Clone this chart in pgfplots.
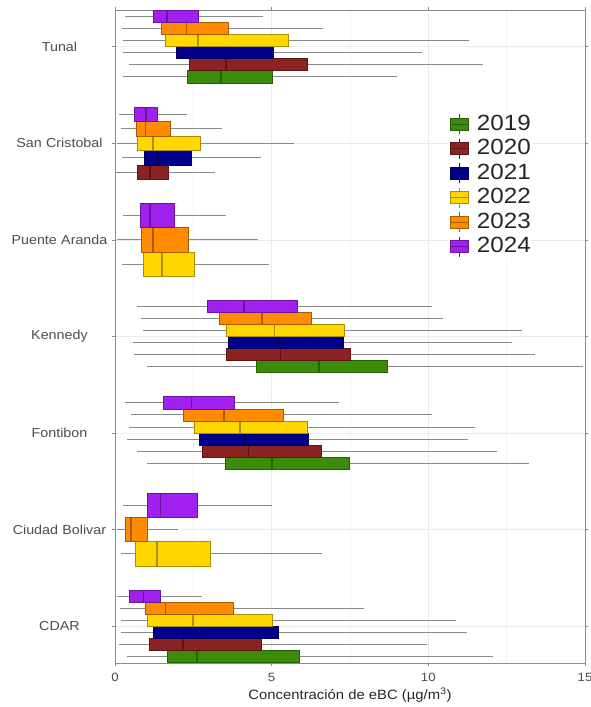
\documentclass[border=0pt]{standalone}
\usepackage{fontspec}
\setmainfont{Liberation Sans}[FakeStretch=1.1]
\usepackage{pgfplots}
\pgfplotsset{compat=1.18}
\usepgfplotslibrary{statistics}

% fill / outline colours per year
\definecolor{c19}{HTML}{3B8C0A}\definecolor{c19d}{HTML}{285F05}
\definecolor{c20}{HTML}{8B2323}\definecolor{c20d}{HTML}{5C1414}
\definecolor{c21}{HTML}{00008B}\definecolor{c21d}{HTML}{00005A}
\definecolor{c22}{HTML}{FFD700}\definecolor{c22d}{HTML}{A88E00}
\definecolor{c23}{HTML}{FF8C00}\definecolor{c23d}{HTML}{A85C00}
\definecolor{c24}{HTML}{A020F0}\definecolor{c24d}{HTML}{6A14A0}
\definecolor{whisk}{HTML}{8A8A8A}
\definecolor{gridc}{HTML}{EBEBEB}
\definecolor{gridm}{HTML}{F4F4F4}
\definecolor{frame}{HTML}{8C8C8C}
\definecolor{txt}{HTML}{4D4D4D}

% horizontal box: position, height, colour, lower whisker, Q1, median, Q3, upper whisker
\newcommand{\bp}[8]{%
  \addplot[forget plot, boxplot prepared={draw direction=x, draw position=#1,
      box extend=#2, whisker extend=0,
      lower whisker=#4, lower quartile=#5, median=#6,
      upper quartile=#7, upper whisker=#8,
      every box/.style={draw=#3d, fill=#3, line width=0.8pt},
      every median/.style={draw=#3d, line width=1.2pt},
      every whisker/.style={draw=whisk, line width=1pt}}] coordinates {};
}
% legend key drawn as a small box glyph
\newcommand{\legkey}[2]{%
  \addlegendimage{legend image code/.code={%
    \path[draw=none, fill=none] (-2pt,-1pt) rectangle (26pt,1pt);
    \draw[draw=#1d, line width=0.8pt] (9pt,-10pt) -- (9pt,10pt);
    \draw[draw=#1d, fill=#1, line width=0.8pt] (0pt,-6pt) rectangle (18pt,6pt);
    \draw[draw=#1d, line width=0.8pt] (0pt,0pt) -- (18pt,0pt);}}
  \addlegendentry{#2}}

\begin{document}
\begin{tikzpicture}
\path[use as bounding box] (-115pt,-44pt) rectangle (475pt,663pt);
\begin{axis}[
  at={(0pt,0pt)}, anchor=south west,
  scale only axis, width=470pt, height=653pt,
  xmin=0, xmax=15, ymin=0.62, ymax=7.38,
  xtick={0,5,10,15}, minor xtick={2.5,7.5,12.5},
  ytick={1,2,3,4,5,6,7},
  yticklabels={CDAR,Ciudad Bolivar,Fontibon,Kennedy,Puente Aranda,San Cristobal,Tunal},
  /pgf/number format/assume math mode=true,
  xmajorgrids, ymajorgrids, xminorgrids,
  major grid style={draw=gridc, line width=0.6pt},
  minor grid style={draw=gridm, line width=0.5pt},
  axis line style={draw=frame, line width=0.8pt},
  tick align=outside, major tick length=3pt, minor tick length=0pt,
  tick style={draw=frame, line width=0.6pt},
  ticklabel style={font=\fontsize{12}{14}\selectfont, text=txt},
  xticklabel style={yshift=-4pt},
  yticklabel style={font=\fontsize{13}{15}\selectfont, text=txt,
    text width=98pt, align=center},
  xlabel={Concentración de eBC (µg/m\textsuperscript{3})},
  xlabel style={font=\fontsize{13.5}{15}\selectfont, text=black!85, yshift=1pt},
  legend cell align=left,
  legend style={at={(axis description cs:0.708,0.844)}, anchor=north west,
    draw=none, fill=white, inner sep=0pt,
    font=\fontsize{22}{24}\selectfont, text=black!85,
    nodes={inner sep=1pt, text height=17pt, text depth=5.5pt}},
]
\legkey{c19}{2019}
\legkey{c20}{2020}
\legkey{c21}{2021}
\legkey{c22}{2022}
\legkey{c23}{2023}
\legkey{c24}{2024}

% CDAR
\bp{0.6875}{0.125}{c19}{0.38}{1.66}{2.62}{5.87}{12.06}
\bp{0.8125}{0.125}{c20}{0.13}{1.09}{2.17}{4.66}{9.96}
\bp{0.9375}{0.125}{c21}{0.19}{1.21}{2.39}{5.23}{11.23}
\bp{1.0625}{0.125}{c22}{0.19}{1.02}{2.49}{5.01}{10.88}
\bp{1.1875}{0.125}{c23}{0.16}{0.96}{1.60}{3.77}{7.95}
\bp{1.3125}{0.125}{c24}{0.06}{0.45}{0.90}{1.44}{2.78}
% Ciudad Bolivar
\bp{1.75}{0.25}{c22}{0.19}{0.64}{1.34}{3.03}{6.61}
\bp{2.00}{0.25}{c23}{0.06}{0.32}{0.51}{1.05}{2.01}
\bp{2.25}{0.25}{c24}{0.26}{1.02}{1.44}{2.62}{5.01}
% Fontibon
\bp{2.6875}{0.125}{c19}{1.02}{3.51}{5.01}{7.47}{13.21}
\bp{2.8125}{0.125}{c20}{0.70}{2.78}{4.25}{6.58}{12.19}
\bp{2.9375}{0.125}{c21}{0.38}{2.68}{4.15}{6.16}{11.27}
\bp{3.0625}{0.125}{c22}{0.45}{2.52}{3.99}{6.13}{11.49}
\bp{3.1875}{0.125}{c23}{0.51}{2.17}{3.48}{5.39}{10.12}
\bp{3.3125}{0.125}{c24}{0.32}{1.53}{2.43}{3.80}{7.15}
% Kennedy
\bp{3.6875}{0.125}{c19}{1.02}{4.50}{6.51}{8.68}{14.95}
\bp{3.8125}{0.125}{c20}{0.61}{3.54}{5.27}{7.50}{13.40}
\bp{3.9375}{0.125}{c21}{0.58}{3.61}{5.20}{7.28}{12.67}
\bp{4.0625}{0.125}{c22}{0.90}{3.54}{5.10}{7.31}{12.99}
\bp{4.1875}{0.125}{c23}{0.83}{3.32}{4.69}{6.26}{10.47}
\bp{4.3125}{0.125}{c24}{0.70}{2.94}{4.12}{5.81}{10.12}
% Puente Aranda
\bp{4.75}{0.25}{c22}{0.22}{0.90}{1.50}{2.52}{4.92}
\bp{5.00}{0.25}{c23}{0.06}{0.83}{1.21}{2.33}{4.57}
\bp{5.25}{0.25}{c24}{0.26}{0.80}{1.12}{1.91}{3.54}
% San Cristobal
\bp{5.70}{0.15}{c20}{0.00}{0.70}{1.12}{1.69}{3.19}
\bp{5.85}{0.15}{c21}{0.22}{0.93}{1.37}{2.43}{4.66}
\bp{6.00}{0.15}{c22}{0.06}{0.70}{1.21}{2.71}{5.71}
\bp{6.15}{0.15}{c23}{0.19}{0.67}{0.97}{1.76}{3.42}
\bp{6.30}{0.15}{c24}{0.13}{0.61}{0.99}{1.34}{2.30}
% Tunal
\bp{6.6875}{0.125}{c19}{0.26}{2.30}{3.38}{5.01}{9.00}
\bp{6.8125}{0.125}{c20}{0.45}{2.36}{3.54}{6.13}{11.75}
\bp{6.9375}{0.125}{c21}{0.26}{1.95}{2.90}{5.07}{9.80}
\bp{7.0625}{0.125}{c22}{0.26}{1.60}{2.65}{5.55}{11.30}
\bp{7.1875}{0.125}{c23}{0.22}{1.47}{2.27}{3.61}{6.64}
\bp{7.3125}{0.125}{c24}{0.32}{1.21}{1.66}{2.65}{4.72}
\end{axis}
\end{tikzpicture}
\end{document}
